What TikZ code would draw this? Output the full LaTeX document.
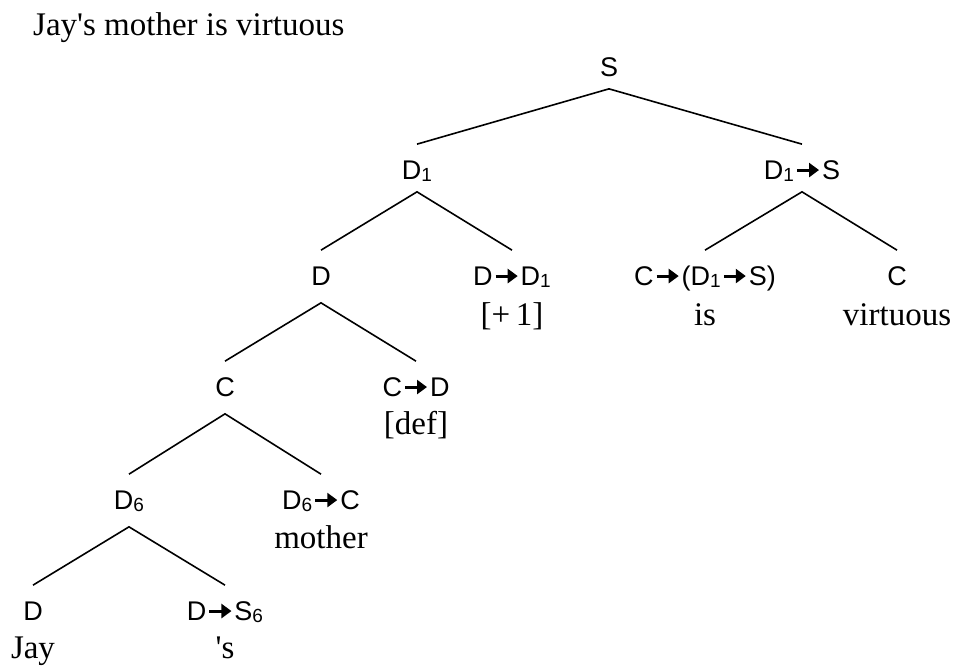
\documentclass[tikz,border=0pt]{standalone}
\usepackage{fontspec}
\newfontfamily\wordfont{Liberation Serif}
\newfontfamily\labfont{Liberation Sans}
\usetikzlibrary{arrows.meta}
\newcommand{\rarr}{\hspace{1.5pt}\tikz[baseline=0pt]\draw[line width=3pt,-{Triangle[length=10pt,width=14pt]}] (0pt,9.6pt) -- (22pt,9.6pt);\hspace{1.5pt}}
\newcommand{\lsub}[1]{\raisebox{-1.5pt}{\fontsize{19}{19}\selectfont #1}}
\begin{document}
\begin{tikzpicture}[x=1pt,y=-1pt,
  lab/.style={font=\labfont\fontsize{27}{27}\selectfont, text height=19.3pt, text depth=0pt, inner xsep=0pt, inner ysep=12pt},
  word/.style={font=\wordfont\fontsize{33}{33}\selectfont, anchor=base, inner sep=0pt},
  edge/.style={line width=1.6pt}]
\useasboundingbox (0,0) rectangle (954,666);
\node[word, anchor=base west] (title) at (33,36) {Jay's mother is virtuous};
% level 0
\node[lab] (S) at (609,67) {S};
% level 1
\node[lab] (D1) at (417,170) {D\lsub{1}};
\node[lab] (D1S) at (802,170) {D\lsub{1}\rarr S};
% level 2
\node[lab] (D) at (321,276) {D};
\node[lab] (DD1) at (512,276) {D\rarr D\lsub{1}};
\node[lab] (CDS) at (705,276) {C\rarr(D\lsub{1}\rarr S)};
\node[lab] (Cv) at (897,276) {C};
\node[word] (plus1) at (512,325) {[+\,1]};
\node[word] (is) at (705,325) {is};
\node[word] (virt) at (897,325) {virtuous};
% level 3
\node[lab] (C) at (225,387) {C};
\node[lab] (CD) at (416,387) {C\rarr D};
\node[word] (def) at (416,434) {[def]};
% level 4
\node[lab] (D6) at (129,500) {D\lsub{6}};
\node[lab] (D6C) at (321,500) {D\lsub{6}\rarr C};
\node[word] (mother) at (321,548) {mother};
% level 5
\node[lab] (Dj) at (33,611) {D};
\node[lab] (DS6) at (225,611) {D\rarr S\lsub{6}};
\node[word] (jay) at (33,658) {Jay};
\node[word] (poss) at (225,658) {'s};
% edges
\draw[edge] ([yshift=4pt]D1.north) -- (S.south) -- ([yshift=4pt]D1S.north);
\draw[edge] ([yshift=4pt]D.north) -- (D1.south) -- ([yshift=4pt]DD1.north);
\draw[edge] ([yshift=4pt]CDS.north) -- (D1S.south) -- ([yshift=4pt]Cv.north);
\draw[edge] ([yshift=4pt]C.north) -- ([yshift=-5pt]D.south) -- ([yshift=4pt]CD.north);
\draw[edge] ([yshift=4pt]D6.north) -- ([yshift=-5pt]C.south) -- ([yshift=4pt]D6C.north);
\draw[edge] ([yshift=4pt]Dj.north) -- ([yshift=-5pt]D6.south) -- ([yshift=4pt]DS6.north);
\end{tikzpicture}
\end{document}
